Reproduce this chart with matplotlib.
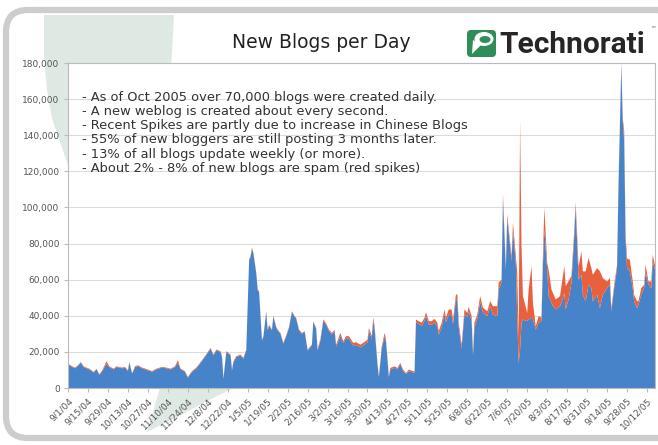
import numpy as np
import pandas as pd
import matplotlib
matplotlib.use("Agg")
import matplotlib.pyplot as plt
from matplotlib.patches import FancyBboxPatch, Polygon, Ellipse

START = pd.Timestamp("2004-09-01")

# day offsets from 9/1/04; blue = new blogs, spam = red spikes (both in thousands)
days = [0, 3, 5, 7, 9, 11, 13, 15, 18, 20, 22, 24, 27, 29, 32, 34, 38, 40, 42, 43,
        45, 47, 49, 52, 56, 59, 62, 66, 69, 72, 75, 77, 79, 82, 84, 87, 90, 94, 97,
        100, 102, 104, 107, 108, 109, 111, 114, 115, 116, 118, 121, 123, 125, 127, 128, 129, 130, 132, 133,
        134, 136, 137, 139, 140, 141, 143, 144, 146, 147, 149, 151, 153, 155, 157, 159, 160, 162, 164, 166,
        168, 171, 172, 174, 175, 177, 179, 181, 183, 185, 187, 188, 191, 193, 195,
        197, 200, 202, 205, 207, 210, 211, 213, 214, 215, 217, 218, 220, 222, 223, 225, 226, 229, 231, 233,
        235, 237, 239, 242, 243, 244, 246, 248, 250, 251, 253, 255, 257, 259, 260, 262, 264, 265, 267, 269,
        270, 272, 273, 274, 276, 278, 280, 281, 283, 284, 285, 287, 289,
        291, 294, 296, 298, 301, 302, 304, 305, 307, 308, 310, 311, 312, 314, 315, 316, 317, 318, 319, 322,
        323, 325, 326, 328, 330, 332, 333, 334, 336, 337, 339, 340, 342, 345, 346, 348, 349, 351, 353, 355,
        356, 358, 360, 361, 363, 365, 367, 368, 371, 373, 375, 378, 380, 381, 383, 385, 386, 388, 389, 390,
        391, 392, 394, 396, 397, 399, 400, 402, 404, 405, 407, 409, 410, 412]

blue_k = [13.1, 11.6, 10.9, 12.2, 14.0, 11.6, 10.9, 10.3, 8.5, 10.3, 7.2, 9.4, 13.3, 11.6, 10.3, 11.6, 10.9, 11.3, 9.4, 14.0,
          7.9, 11.6, 12.2, 10.9, 9.8, 9.0, 10.3, 11.3, 10.9, 10.3, 11.6, 13.9, 10.3, 9.0, 5.7, 9.0, 10.9, 15.0, 18.3,
          21.7, 18.0, 20.8, 19.9, 17.1, 5.0, 19.9, 18.0, 9.7, 14.3, 17.1, 18.0, 16.2, 20.8, 70.7, 72.5, 77.2, 74.5, 63.5, 54.1,
          53.1, 26.3, 28.2, 42.0, 31.9, 34.6, 31.9, 39.6, 33.4, 31.9, 30.0, 24.5, 28.6, 33.4, 42.0, 39.3, 38.4, 31.9, 30.0, 31.0,
          20.8, 23.5, 36.5, 32.8, 20.8, 26.3, 37.2, 35.0, 31.6, 29.7, 31.4, 23.0, 28.7, 24.9, 27.7,
          27.2, 23.5, 23.8, 22.5, 23.5, 25.3, 31.8, 27.2, 37.4, 32.7, 13.1, 6.0, 21.9, 28.5, 25.3, 6.0, 10.3, 11.2, 10.3, 13.1,
          9.4, 7.7, 9.4, 8.6, 8.6, 36.4, 35.5, 34.3, 37.1, 40.0, 35.2, 35.0, 36.3, 34.1, 29.5, 33.6, 41.0, 36.4, 40.5, 40.5,
          35.4, 49.0, 49.0, 33.6, 22.0, 41.0, 39.1, 42.5, 37.3, 18.0, 33.6, 38.2, 47.9,
          41.6, 39.8, 45.3, 40.7, 39.8, 54.6, 58.3, 104.5, 65.7, 93.4, 78.6, 70.3, 87.9, 69.4, 39.8, 13.9, 21.3, 36.1, 37.9, 37.0,
          37.9, 38.9, 37.9, 32.4, 36.1, 37.0, 67.5, 87.9, 65.7, 50.9, 47.2, 45.3, 43.5, 45.3, 47.2, 52.7, 43.5, 49.0, 58.3, 84.2,
          100.8, 60.0, 62.7, 51.6, 47.9, 57.2, 55.3, 47.9, 51.6, 44.2, 51.6, 55.3, 57.2, 42.4, 55.3, 66.4, 110.8, 179.3, 147.8, 136.7,
          81.2, 66.4, 64.6, 55.3, 47.9, 44.2, 46.1, 51.6, 55.3, 64.6, 57.2, 55.3, 70.1, 64.6]

spam_k = [0.4, 0.4, 0.4, 0.4, 0.4, 0.4, 0.4, 0.4, 0.4, 0.4, 0.4, 0.4, 1.5, 0.4, 0.4, 0.4, 0.4, 0.4, 0.4, 0.4,
          0.4, 0.4, 0.4, 0.4, 0.4, 0.4, 0.4, 0.4, 0.4, 0.4, 0.4, 1.5, 0.4, 0.4, 0.4, 0.4, 0.4, 0.4, 0.4,
          0.5, 0.5, 0.5, 0.5, 0.5, 0.5, 0.5, 0.5, 0.5, 0.5, 0.5, 0.5, 0.5, 0.5, 0.5, 0.5, 0.5, 0.5, 0.5, 0.5,
          0.5, 0.5, 0.5, 0.5, 0.5, 0.5, 0.5, 0.5, 0.5, 0.5, 0.5, 0.5, 0.5, 0.5, 0.5, 0.5, 0.5, 0.5, 0.5, 0.5,
          0.5, 0.5, 0.5, 0.5, 0.8, 0.8, 0.8, 0.8, 0.8, 0.8, 0.8, 1.0, 1.8, 1.0, 1.0,
          1.5, 1.5, 1.5, 1.5, 1.5, 1.5, 1.5, 1.5, 1.5, 1.5, 0.8, 0.5, 1.2, 2.0, 1.5, 0.5, 0.8, 0.8, 0.8, 0.8,
          0.8, 0.6, 0.8, 0.7, 0.7, 1.5, 1.5, 1.8, 1.8, 2.0, 1.8, 2.0, 2.0, 2.0, 2.0, 2.5, 2.5, 2.5, 3.0, 3.0,
          2.5, 2.8, 2.8, 2.5, 2.0, 2.5, 2.5, 2.5, 2.5, 1.4, 2.5, 2.5, 3.0,
          2.8, 2.7, 2.8, 4.6, 5.5, 3.7, 1.8, 2.8, 1.8, 2.8, 1.9, 2.8, 3.7, 3.7, 24.0, 14.8, 126.7, 42.5, 13.0, 4.6,
          16.7, 28.6, 9.3, 1.8, 3.7, 1.9, 5.6, 12.0, 3.7, 14.8, 7.4, 7.4, 5.5, 5.6, 9.2, 14.8, 12.9, 10.2, 3.7, 3.7,
          1.9, 7.0, 13.0, 13.0, 16.7, 14.8, 11.1, 14.8, 14.8, 20.4, 9.3, 3.7, 3.7, 1.8, 1.9, 1.9, 1.9, 0.7, 1.9, 5.6,
          3.7, 5.4, 6.4, 3.7, 3.7, 3.9, 2.0, 3.7, 1.9, 3.7, 1.8, 3.7, 3.7, 1.8]

notes = [
    "- As of Oct 2005 over 70,000 blogs were created daily.",
    "- A new weblog is created about every second.",
    "- Recent Spikes are partly due to increase in Chinese Blogs",
    "- 55% of new bloggers are still posting 3 months later.",
    "- 13% of all blogs update weekly (or more).",
    "- About 2% - 8% of new blogs are spam (red spikes)",
]
title = "New Blogs per Day"
brand = "Technorati"

BLUE, RED = "#4683c8", "#e8603c"
W, H = 658, 445


def P(x, y):  # pixel (top-left origin) -> inches for dpi_scale_trans
    return (x / 100, (H - y) / 100)


fig = plt.figure(figsize=(W / 100, H / 100), dpi=100)
T = fig.dpi_scale_trans

# background decorations and the rounded frame
fig.add_artist(Polygon([P(x, y) for x, y in [(44, 15), (174, 15), (171, 70), (68, 70), (68, 165),
                                              (60, 142), (52, 118), (47, 90), (44, 55)]],
                       closed=True, transform=T, fc="#dde9e2", ec="none", zorder=-2))
fig.add_artist(Polygon([P(x, y) for x, y in [(147, 432), (160, 388), (233, 388)]],
                       closed=True, transform=T, fc="#dde9e2", ec="none", zorder=-2))
x0, y0 = P(6, 438)
fig.add_artist(FancyBboxPatch((x0, y0), (680 - 6) / 100, (438 - 10) / 100,
                              boxstyle="round,pad=0,rounding_size=0.22", transform=T,
                              fc="none", ec="#cdcdcd", lw=4.5, zorder=-1))

ax = fig.add_axes([68 / W, 1 - 388 / H, 587 / W, 325 / H])
ax.set_zorder(2)
x = START + pd.to_timedelta(days, unit="D")
blue = np.array(blue_k) * 1000
spam = np.array(spam_k) * 1000
ax.stackplot(x, blue, spam, colors=[BLUE, RED], linewidth=0)

ax.set_xlim(START, START + pd.Timedelta(days=411.6))
ax.set_ylim(0, 180000)
yt = np.arange(0, 180001, 20000)
ax.set_yticks(yt)
ax.set_yticklabels([f"{v:,}" for v in yt], fontsize=6.5, color="#555555")
ticks = pd.date_range("2004-09-01", "2005-10-12", freq="14D")
ax.set_xticks(ticks)
ax.set_xticklabels([f"{t.month}/{t.day}/{t:%y}" for t in ticks], rotation=45, ha="right",
                   rotation_mode="anchor", fontsize=6.5, color="#555555")
ax.tick_params(length=3, color="#bbbbbb", pad=3)
ax.grid(axis="y", color="#dcdcdc", lw=0.8)
ax.set_axisbelow(True)
for s in ax.spines.values():
    s.set_color("#bbbbbb"); s.set_linewidth(0.8)

for i, line in enumerate(notes):
    fig.text(82 / W, 1 - (97 + i * 14.3) / H, line, fontsize=9.4, color="#333333", va="center",
             zorder=5)

fig.text(321 / W, 1 - 42 / H, title, fontsize=13.5, color="#222222", ha="center", va="center")

# logo
fig.add_artist(FancyBboxPatch(P(467, 57), 0.29, 0.27, boxstyle="round,pad=0,rounding_size=0.04",
                              transform=T, fc="#2f8d58", ec="none"))
fig.add_artist(Ellipse(P(484, 39), 0.19, 0.14, transform=T, fc="white", ec="none"))
fig.add_artist(Ellipse(P(485, 39.5), 0.11, 0.07, transform=T, fc="#2f8d58", ec="none"))
fig.add_artist(Polygon([P(473, 40), P(472, 54), P(481, 45)], closed=True, transform=T,
                       fc="white", ec="none"))
fig.text(499 / W, 1 - 45 / H, brand, fontsize=21.5, fontfamily="Roboto", fontweight="bold",
         color="#262626", va="center")
fig.text(650 / W, 1 - 31 / H, "™", fontsize=4, color="#555555")

fig.savefig("out.png", dpi=100)
